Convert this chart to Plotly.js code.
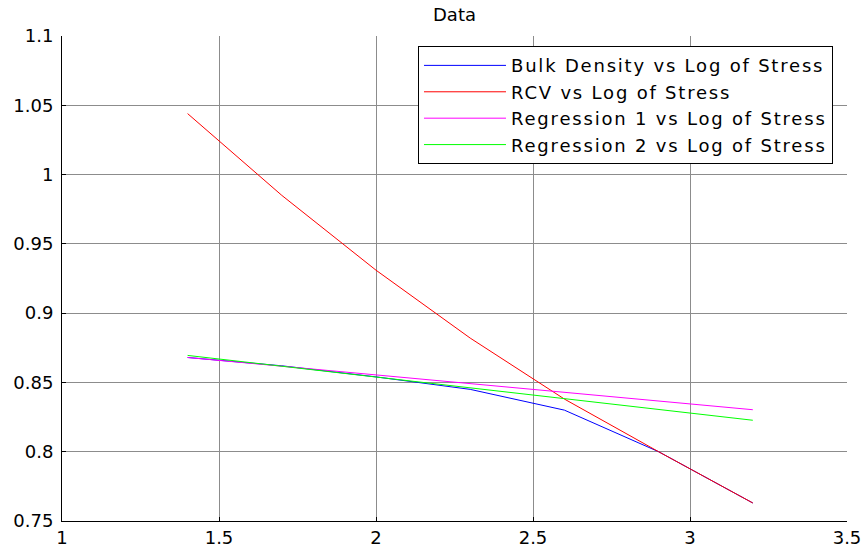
<!DOCTYPE html>
<html>
<head>
<meta charset="utf-8">
<script src="https://cdn.plot.ly/plotly-3.0.1.min.js"></script>
<style>
  html, body { margin: 0; padding: 0; background: #fff; }
  #chart { width: 864px; height: 550px; }
  /* slightly looser legend lettering */
  .legendtext { letter-spacing: 1.8px; }
</style>
</head>
<body>
<div id="chart"></div>
<script>
// Log of stress (x) shared by all series
const logStress = [1.4, 1.7, 2.0, 2.3, 2.6, 2.9, 3.2];

// Measured bulk density and RCV
const bulkDensity = [0.868, 0.862, 0.854, 0.845, 0.830, 0.800, 0.763];
const rcv = [1.044, 0.985, 0.931, 0.882, 0.838, 0.800, 0.763];

// Fitted regressions
const regression1 = [0.868, 0.8617, 0.8553, 0.8490, 0.8428, 0.8366, 0.8303];
const regression2 = [0.8695, 0.8617, 0.8539, 0.8461, 0.8383, 0.8305, 0.8227];

const seriesNames = [
  'Bulk Density vs Log of Stress',
  'RCV vs Log of Stress',
  'Regression 1 vs Log of Stress',
  'Regression 2 vs Log of Stress'
];
const seriesColors = ['#0000ff', '#ff0000', '#ff00ff', '#00ff00'];
const seriesValues = [bulkDensity, rcv, regression1, regression2];

const xTicks = [1, 1.5, 2, 2.5, 3, 3.5];
const yTicks = [0.75, 0.8, 0.85, 0.9, 0.95, 1, 1.05, 1.1];

const traces = seriesValues.map((vals, i) => ({
  type: 'scatter',
  mode: 'lines',
  x: logStress,
  y: vals,
  name: seriesNames[i],
  line: { color: seriesColors[i], width: 1 }
}));

const axisFont = { family: 'DejaVu Sans, sans-serif', size: 18, color: '#000' };

const layout = {
  width: 864,
  height: 550,
  margin: { l: 62, r: 17, t: 36, b: 29, pad: 0 },
  paper_bgcolor: '#fff',
  plot_bgcolor: '#fff',
  font: { family: 'DejaVu Sans, sans-serif', color: '#000' },
  title: {
    text: 'Data',
    font: { family: 'DejaVu Sans, sans-serif', size: 18, color: '#000' },
    x: 0.5, xref: 'paper', xanchor: 'center',
    y: 0.973, yref: 'container', yanchor: 'middle'
  },
  xaxis: {
    range: [1, 3.5],
    tickvals: xTicks,
    ticks: 'inside', ticklen: 4, tickcolor: '#000',
    showline: true, linecolor: '#000', linewidth: 1,
    showgrid: true, gridcolor: '#8c8c8c', gridwidth: 1,
    zeroline: false,
    tickfont: axisFont,
    fixedrange: true
  },
  yaxis: {
    range: [0.75, 1.1],
    tickvals: yTicks,
    ticks: 'inside', ticklen: 4, tickcolor: '#000',
    showline: true, linecolor: '#000', linewidth: 1,
    showgrid: true, gridcolor: '#8c8c8c', gridwidth: 1,
    zeroline: false,
    tickfont: axisFont,
    ticklabelstandoff: 4,
    fixedrange: true
  },
  showlegend: true,
  legend: {
    x: 0.4535, y: 0.979, xanchor: 'left', yanchor: 'top',
    bgcolor: '#fff', bordercolor: '#000', borderwidth: 1,
    font: { family: 'DejaVu Sans, sans-serif', size: 18, color: '#000' },
    itemwidth: 82,
    traceorder: 'normal'
  }
};

Plotly.newPlot('chart', traces, layout, { displayModeBar: false, staticPlot: true });
</script>
</body>
</html>
